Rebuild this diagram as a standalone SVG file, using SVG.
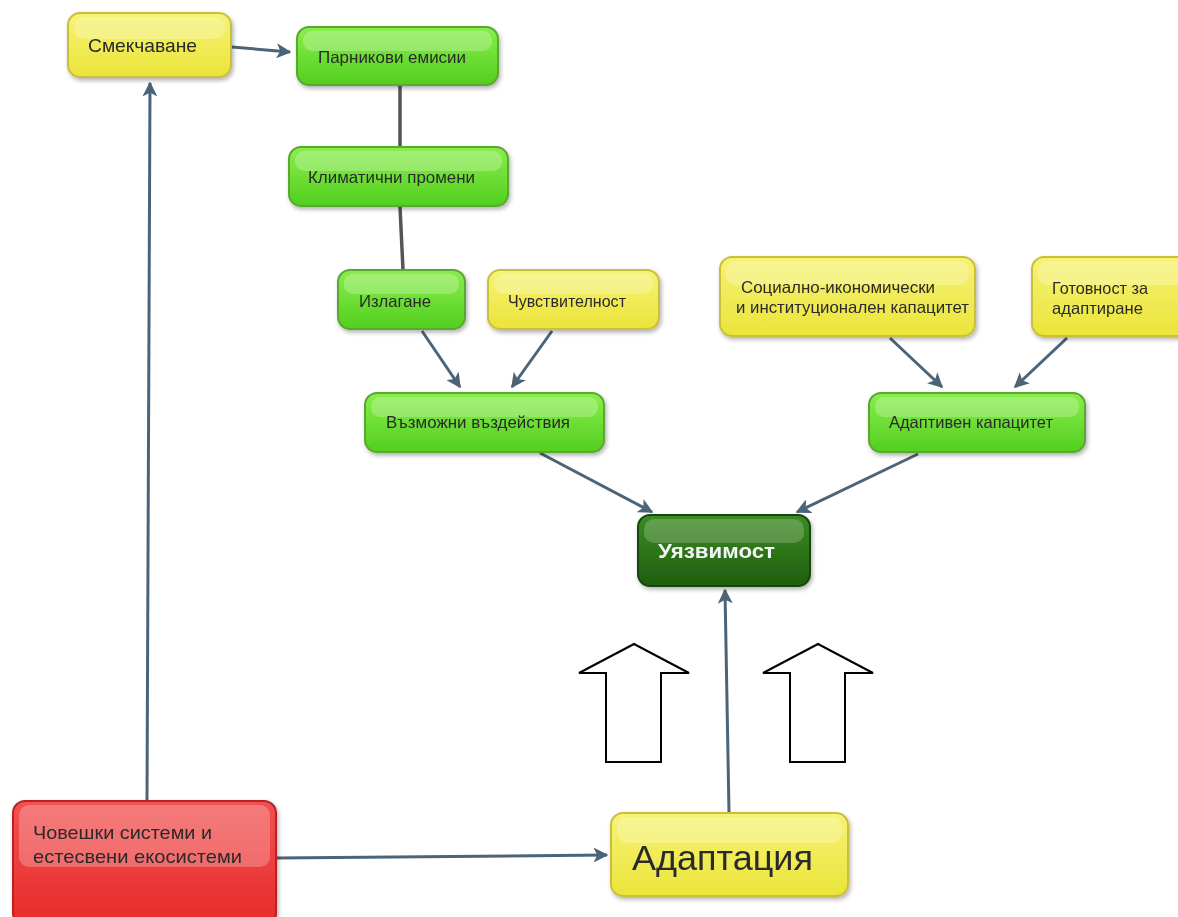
<svg xmlns="http://www.w3.org/2000/svg" width="1178" height="917" viewBox="0 0 1178 917">
<defs>
<linearGradient id="gy" x1="0" y1="0" x2="0" y2="1"><stop offset="0" stop-color="#f6f376"/><stop offset="1" stop-color="#ebe43a"/></linearGradient>
<linearGradient id="gg" x1="0" y1="0" x2="0" y2="1"><stop offset="0" stop-color="#8aee4c"/><stop offset="1" stop-color="#52cf1f"/></linearGradient>
<linearGradient id="gd" x1="0" y1="0" x2="0" y2="1"><stop offset="0" stop-color="#3c8c24"/><stop offset="1" stop-color="#1f5e0e"/></linearGradient>
<linearGradient id="gr" x1="0" y1="0" x2="0" y2="1"><stop offset="0" stop-color="#f25252"/><stop offset="1" stop-color="#e82a2a"/></linearGradient>
<filter id="sh" x="-10%" y="-10%" width="125%" height="130%"><feDropShadow dx="1.5" dy="2.5" stdDeviation="2" flood-color="#000" flood-opacity="0.3"/></filter>
<marker id="ah" viewBox="0 0 10 10" refX="9" refY="5" markerWidth="5" markerHeight="5" orient="auto" markerUnits="strokeWidth"><path d="M0,0 L10,5 L0,10 L2.5,5 Z" fill="#4c6478"/></marker>
<style>
.y{fill:url(#gy);stroke:#c9bf3c;stroke-width:2}
.g{fill:url(#gg);stroke:#5aa830;stroke-width:2}
.d{fill:url(#gd);stroke:#18460a;stroke-width:2}
.r{fill:url(#gr);stroke:#b82020;stroke-width:2}
.hl{fill:#fff;opacity:0.24}
.t{font-family:"Liberation Sans",Arial,sans-serif;fill:#2a2a2a}
.c{stroke:#4c6478;stroke-width:3;fill:none;marker-end:url(#ah)}
.p{stroke:#555;stroke-width:3.5;fill:none}
.ho{fill:#fff;stroke:#000;stroke-width:2}
</style>
</defs>
<g id="connectors">
<line class="p" x1="400" y1="86" x2="400" y2="147"/>
<line class="p" x1="400" y1="207" x2="403" y2="270"/>
<line class="c" x1="232" y1="47" x2="290" y2="52"/>
<line class="c" x1="422" y1="331" x2="460" y2="387"/>
<line class="c" x1="552" y1="331" x2="512" y2="387"/>
<line class="c" x1="890" y1="338" x2="942" y2="387"/>
<line class="c" x1="1067" y1="338" x2="1015" y2="387"/>
<line class="c" x1="540" y1="453" x2="652" y2="512"/>
<line class="c" x1="918" y1="454" x2="797" y2="512"/>
<line class="c" x1="729" y1="812" x2="725" y2="590"/>
<line class="c" x1="277" y1="858" x2="607" y2="855"/>
<line class="c" x1="147" y1="800" x2="150" y2="83"/>
</g>
<g id="hollow-arrows">
<polygon class="ho" points="634,644 689,673 661,673 661,762 606,762 606,673 579,673"/>
<polygon class="ho" points="818,644 873,673 845,673 845,762 790,762 790,673 763,673"/>
</g>
<g id="n-smekchavane" filter="url(#sh)">
<rect class="y" x="68" y="13" width="163" height="64" rx="12"/>
<rect class="hl" x="74" y="17" width="151" height="22" rx="10"/>
<text class="t" x="88" y="52" font-size="19" textLength="109" lengthAdjust="spacingAndGlyphs">Смекчаване</text>
</g>
<g id="n-parnikovi" filter="url(#sh)">
<rect class="g" x="297" y="27" width="201" height="58" rx="12"/>
<rect class="hl" x="303" y="31" width="189" height="20" rx="9"/>
<text class="t" x="318" y="63" font-size="16.5" textLength="148" lengthAdjust="spacingAndGlyphs">Парникови емисии</text>
</g>
<g id="n-klimatichni" filter="url(#sh)">
<rect class="g" x="289" y="147" width="219" height="59" rx="12"/>
<rect class="hl" x="295" y="151" width="207" height="20" rx="9"/>
<text class="t" x="308" y="183" font-size="16.5" textLength="167" lengthAdjust="spacingAndGlyphs">Климатични промени</text>
</g>
<g id="n-izlagane" filter="url(#sh)">
<rect class="g" x="338" y="270" width="127" height="59" rx="12"/>
<rect class="hl" x="344" y="274" width="115" height="20" rx="9"/>
<text class="t" x="359" y="307" font-size="16.5" textLength="72" lengthAdjust="spacingAndGlyphs">Излагане</text>
</g>
<g id="n-chuvstvitelnost" filter="url(#sh)">
<rect class="y" x="488" y="270" width="171" height="59" rx="12"/>
<rect class="hl" x="494" y="274" width="159" height="20" rx="9"/>
<text class="t" x="508" y="307" font-size="16" textLength="118" lengthAdjust="spacingAndGlyphs">Чувствителност</text>
</g>
<g id="n-vazmozhni" filter="url(#sh)">
<rect class="g" x="365" y="393" width="239" height="59" rx="12"/>
<rect class="hl" x="371" y="397" width="227" height="20" rx="9"/>
<text class="t" x="386" y="428" font-size="16.5" textLength="184" lengthAdjust="spacingAndGlyphs">Възможни въздействия</text>
</g>
<g id="n-socialno" filter="url(#sh)">
<rect class="y" x="720" y="257" width="255" height="79" rx="12"/>
<rect class="hl" x="726" y="261" width="243" height="24" rx="10"/>
<text class="t" x="741" y="293" font-size="16.5" textLength="194" lengthAdjust="spacingAndGlyphs">Социално-икономически</text>
<text class="t" x="736" y="313" font-size="16.5" textLength="233" lengthAdjust="spacingAndGlyphs">и институционален капацитет</text>
</g>
<g id="n-gotovnost" filter="url(#sh)">
<rect class="y" x="1032" y="257" width="160" height="79" rx="12"/>
<rect class="hl" x="1038" y="261" width="148" height="24" rx="10"/>
<text class="t" x="1052" y="294" font-size="16.5" textLength="96" lengthAdjust="spacingAndGlyphs">Готовност за</text>
<text class="t" x="1052" y="314" font-size="16.5" textLength="91" lengthAdjust="spacingAndGlyphs">адаптиране</text>
</g>
<g id="n-adaptiven" filter="url(#sh)">
<rect class="g" x="869" y="393" width="216" height="59" rx="12"/>
<rect class="hl" x="875" y="397" width="204" height="20" rx="9"/>
<text class="t" x="889" y="428" font-size="16.5" textLength="164" lengthAdjust="spacingAndGlyphs">Адаптивен капацитет</text>
</g>
<g id="n-uyazvimost" filter="url(#sh)">
<rect class="d" x="638" y="515" width="172" height="71" rx="12"/>
<rect x="644" y="519" width="160" height="24" rx="10" fill="#fff" opacity="0.2"/>
<text x="658" y="558" font-size="21" font-weight="bold" font-family="Liberation Sans,Arial,sans-serif" fill="#f4f4f4" textLength="117" lengthAdjust="spacingAndGlyphs">Уязвимост</text>
</g>
<g id="n-choveshki" filter="url(#sh)">
<rect class="r" x="13" y="801" width="263" height="124" rx="12"/>
<rect class="hl" x="19" y="805" width="251" height="62" rx="10"/>
<text class="t" x="33" y="839" font-size="19" textLength="179" lengthAdjust="spacingAndGlyphs">Човешки системи и</text>
<text class="t" x="33" y="863" font-size="19" textLength="209" lengthAdjust="spacingAndGlyphs">естесвени екосистеми</text>
</g>
<g id="n-adaptaciya" filter="url(#sh)">
<rect class="y" x="611" y="813" width="237" height="83" rx="12"/>
<rect class="hl" x="617" y="817" width="225" height="26" rx="10"/>
<text class="t" x="632" y="870" font-size="35" textLength="181" lengthAdjust="spacingAndGlyphs">Адаптация</text>
</g>
</svg>
